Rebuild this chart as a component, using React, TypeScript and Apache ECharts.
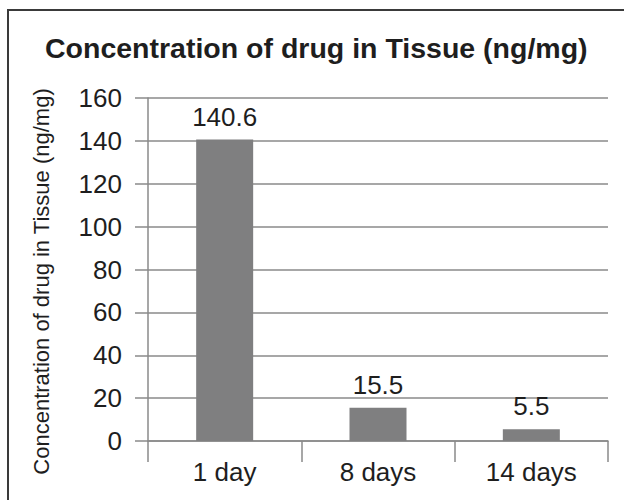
import React, { useEffect, useRef } from "react";
import * as echarts from "echarts";

const categories = ["1 day", "8 days", "14 days"];
const values = [140.6, 15.5, 5.5];
const yTicks = { min: 0, max: 160, interval: 20 };
const titleText = "Concentration of drug in Tissue (ng/mg)";
const yAxisName = "Concentration of drug in Tissue (ng/mg)";

export default function App() {
  const ref = useRef<HTMLDivElement>(null);
  useEffect(() => {
    if (!ref.current) return;
    const chart = echarts.init(ref.current, null, { renderer: "svg" });
    const lineColor = "#8a8a8a";
    const textColor = "#1e1e1e";
    const font = "Liberation Sans, Arial, sans-serif";
    chart.setOption({
      animation: false,
      backgroundColor: "#ffffff",
      title: {
        text: titleText,
        left: 45,
        top: 33,
        padding: 0,
        textStyle: {
          fontFamily: font,
          fontWeight: "bold",
          fontSize: 28.5,
          color: textColor,
        },
      },
      graphic: [
        {
          type: "rect",
          shape: { x: 8, y: 10, width: 700, height: 600 },
          style: { fill: "none", stroke: "#3a3a3a", lineWidth: 2 },
          silent: true,
        },
      ],
      grid: { left: 148, right: 16, top: 98, bottom: 59, containLabel: false },
      xAxis: {
        type: "category",
        data: categories,
        axisLine: { show: true, lineStyle: { color: lineColor, width: 1.5 } },
        axisTick: { show: true, length: 21, lineStyle: { color: lineColor, width: 1.5 } },
        axisLabel: {
          margin: 18,
          fontSize: 26,
          fontFamily: font,
          color: textColor,
        },
      },
      yAxis: {
        type: "value",
        min: yTicks.min,
        max: yTicks.max,
        interval: yTicks.interval,
        name: yAxisName,
        nameLocation: "middle",
        nameGap: 96,
        nameTextStyle: {
          fontFamily: font,
          fontSize: 22,
          color: textColor,
          padding: [0, 24, 0, 0],
        },
        axisLine: { show: true, lineStyle: { color: lineColor, width: 1.5 } },
        axisTick: { show: true, length: 13, lineStyle: { color: lineColor, width: 1.5 } },
        splitLine: { show: true, lineStyle: { color: lineColor, width: 1.5 } },
        axisLabel: {
          margin: 26,
          fontSize: 26,
          fontFamily: font,
          color: textColor,
        },
      },
      series: [
        {
          type: "bar",
          data: values,
          barWidth: 57,
          itemStyle: { color: "#7f7f80" },
          label: {
            show: true,
            position: "top",
            distance: 10,
            fontSize: 26,
            fontFamily: font,
            color: textColor,
          },
        },
      ],
    });
    return () => chart.dispose();
  }, []);
  return (
    <div
      ref={ref}
      style={{ position: "fixed", left: 0, top: 0, width: 624, height: 500 }}
    />
  );
}
